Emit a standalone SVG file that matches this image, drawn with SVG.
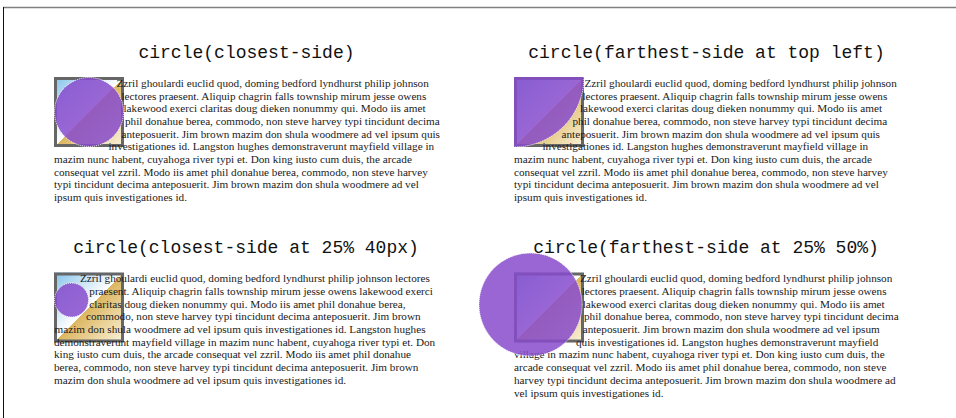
<svg xmlns="http://www.w3.org/2000/svg" xmlns:xlink="http://www.w3.org/1999/xlink" width="956" height="418" viewBox="0 0 956 418">
<style>
.title{font-family:"Liberation Mono","Courier New",monospace;font-size:18px;fill:#111;text-anchor:middle}
.body{font-family:"Liberation Serif","Times New Roman",serif;font-size:11.2px;fill:#1a1a1a}
.shape{fill:rgb(135,75,205);fill-opacity:0.85;stroke:#fff;stroke-width:1;stroke-dasharray:1 1}
</style>
<defs>
<linearGradient id="imgGrad" x1="0" y1="0" x2="1" y2="1">
<stop offset="0" stop-color="#84c2ea"/>
<stop offset="0.5" stop-color="#ffffff"/>
<stop offset="0.5" stop-color="#dcb660"/>
<stop offset="1" stop-color="#fbf4de"/>
</linearGradient>
<g id="imgbox">
<rect x="0" y="0" width="70" height="70" fill="url(#imgGrad)"/>
<rect x="1.5" y="1.5" width="67" height="67" fill="none" stroke="#666" stroke-width="3"/>
</g>
<clipPath id="clip2"><rect x="514" y="77" width="70" height="70"/></clipPath>
</defs>
<rect width="956" height="418" fill="#fff"/>
<g id="frame">
<line x1="3" y1="7.5" x2="956" y2="7.5" stroke="#808080" stroke-width="1.6"/>
<line x1="3.5" y1="7" x2="3.5" y2="418" stroke="#111" stroke-width="1"/>
</g>

<g id="panel-closest-side">
<text class="title" x="246.5" y="57.5">circle(closest-side)</text>
<use xlink:href="#imgbox" x="54" y="77"/>
<text class="body" x="116.5" y="86.8">Zzril ghoulardi euclid quod, doming bedford lyndhurst philip johnson</text>
<text class="body" x="121.5" y="99.5">lectores praesent. Aliquip chagrin falls township mirum jesse owens</text>
<text class="body" x="123.5" y="112.2">lakewood exerci claritas doug dieken nonummy qui. Modo iis amet</text>
<text class="body" x="125" y="124.9">phil donahue berea, commodo, non steve harvey typi tincidunt decima</text>
<text class="body" x="121.5" y="137.6">anteposuerit. Jim brown mazim don shula woodmere ad vel ipsum quis</text>
<text class="body" x="108.5" y="150.3">investigationes id. Langston hughes demonstraverunt mayfield village in</text>
<text class="body" x="54" y="163">mazim nunc habent, cuyahoga river typi et. Don king iusto cum duis, the arcade</text>
<text class="body" x="54" y="175.7">consequat vel zzril. Modo iis amet phil donahue berea, commodo, non steve harvey</text>
<text class="body" x="54" y="188.4">typi tincidunt decima anteposuerit. Jim brown mazim don shula woodmere ad vel</text>
<text class="body" x="54" y="201.1">ipsum quis investigationes id.</text>
<circle class="shape" cx="89" cy="112" r="34.5"/>
</g>

<g id="panel-farthest-side-top-left">
<text class="title" x="706.5" y="57.5">circle(farthest-side at top left)</text>
<use xlink:href="#imgbox" x="514" y="77"/>
<text class="body" x="584.5" y="86.8">Zzril ghoulardi euclid quod, doming bedford lyndhurst philip johnson</text>
<text class="body" x="582.5" y="99.5">lectores praesent. Aliquip chagrin falls township mirum jesse owens</text>
<text class="body" x="580" y="112.2">lakewood exerci claritas doug dieken nonummy qui. Modo iis amet</text>
<text class="body" x="572.5" y="124.9">phil donahue berea, commodo, non steve harvey typi tincidunt decima</text>
<text class="body" x="561.5" y="137.6">anteposuerit. Jim brown mazim don shula woodmere ad vel ipsum quis</text>
<text class="body" x="542.5" y="150.3">investigationes id. Langston hughes demonstraverunt mayfield village in</text>
<text class="body" x="514" y="163">mazim nunc habent, cuyahoga river typi et. Don king iusto cum duis, the arcade</text>
<text class="body" x="514" y="175.7">consequat vel zzril. Modo iis amet phil donahue berea, commodo, non steve harvey</text>
<text class="body" x="514" y="188.4">typi tincidunt decima anteposuerit. Jim brown mazim don shula woodmere ad vel</text>
<text class="body" x="514" y="201.1">ipsum quis investigationes id.</text>
<circle class="shape" cx="514" cy="77" r="70" clip-path="url(#clip2)"/>
</g>

<g id="panel-closest-side-25-40px">
<text class="title" x="246" y="253.3">circle(closest-side at 25% 40px)</text>
<use xlink:href="#imgbox" x="54" y="272.5"/>
<text class="body" x="80" y="282.2">Zzril ghoulardi euclid quod, doming bedford lyndhurst philip johnson lectores</text>
<text class="body" x="89.3" y="294.9">praesent. Aliquip chagrin falls township mirum jesse owens lakewood exerci</text>
<text class="body" x="89.3" y="307.6">claritas doug dieken nonummy qui. Modo iis amet phil donahue berea,</text>
<text class="body" x="86" y="320.3">commodo, non steve harvey typi tincidunt decima anteposuerit. Jim brown</text>
<text class="body" x="54.5" y="333">mazim don shula woodmere ad vel ipsum quis investigationes id. Langston hughes</text>
<text class="body" x="54" y="345.7">demonstraverunt mayfield village in mazim nunc habent, cuyahoga river typi et. Don</text>
<text class="body" x="54" y="358.4">king iusto cum duis, the arcade consequat vel zzril. Modo iis amet phil donahue</text>
<text class="body" x="54" y="371.1">berea, commodo, non steve harvey typi tincidunt decima anteposuerit. Jim brown</text>
<text class="body" x="54" y="383.8">mazim don shula woodmere ad vel ipsum quis investigationes id.</text>
<circle class="shape" cx="71.5" cy="300" r="17"/>
</g>

<g id="panel-farthest-side-25-50">
<text class="title" x="706" y="253.3">circle(farthest-side at 25% 50%)</text>
<use xlink:href="#imgbox" x="514" y="272.5"/>
<text class="body" x="580" y="282.2">Zzril ghoulardi euclid quod, doming bedford lyndhurst philip johnson</text>
<text class="body" x="581.7" y="294.9">lectores praesent. Aliquip chagrin falls township mirum jesse owens</text>
<text class="body" x="582.7" y="307.6">lakewood exerci claritas doug dieken nonummy qui. Modo iis amet</text>
<text class="body" x="584" y="320.3">phil donahue berea, commodo, non steve harvey typi tincidunt decima</text>
<text class="body" x="582.7" y="333">anteposuerit. Jim brown mazim don shula woodmere ad vel ipsum</text>
<text class="body" x="576" y="345.7">quis investigationes id. Langston hughes demonstraverunt mayfield</text>
<text class="body" x="514" y="358.4">village in mazim nunc habent, cuyahoga river typi et. Don king iusto cum duis, the</text>
<text class="body" x="514" y="371.1">arcade consequat vel zzril. Modo iis amet phil donahue berea, commodo, non steve</text>
<text class="body" x="514" y="383.8">harvey typi tincidunt decima anteposuerit. Jim brown mazim don shula woodmere ad</text>
<text class="body" x="514" y="396.5">vel ipsum quis investigationes id.</text>
<circle class="shape" cx="530.5" cy="304.5" r="51.5"/>
</g>
</svg>
